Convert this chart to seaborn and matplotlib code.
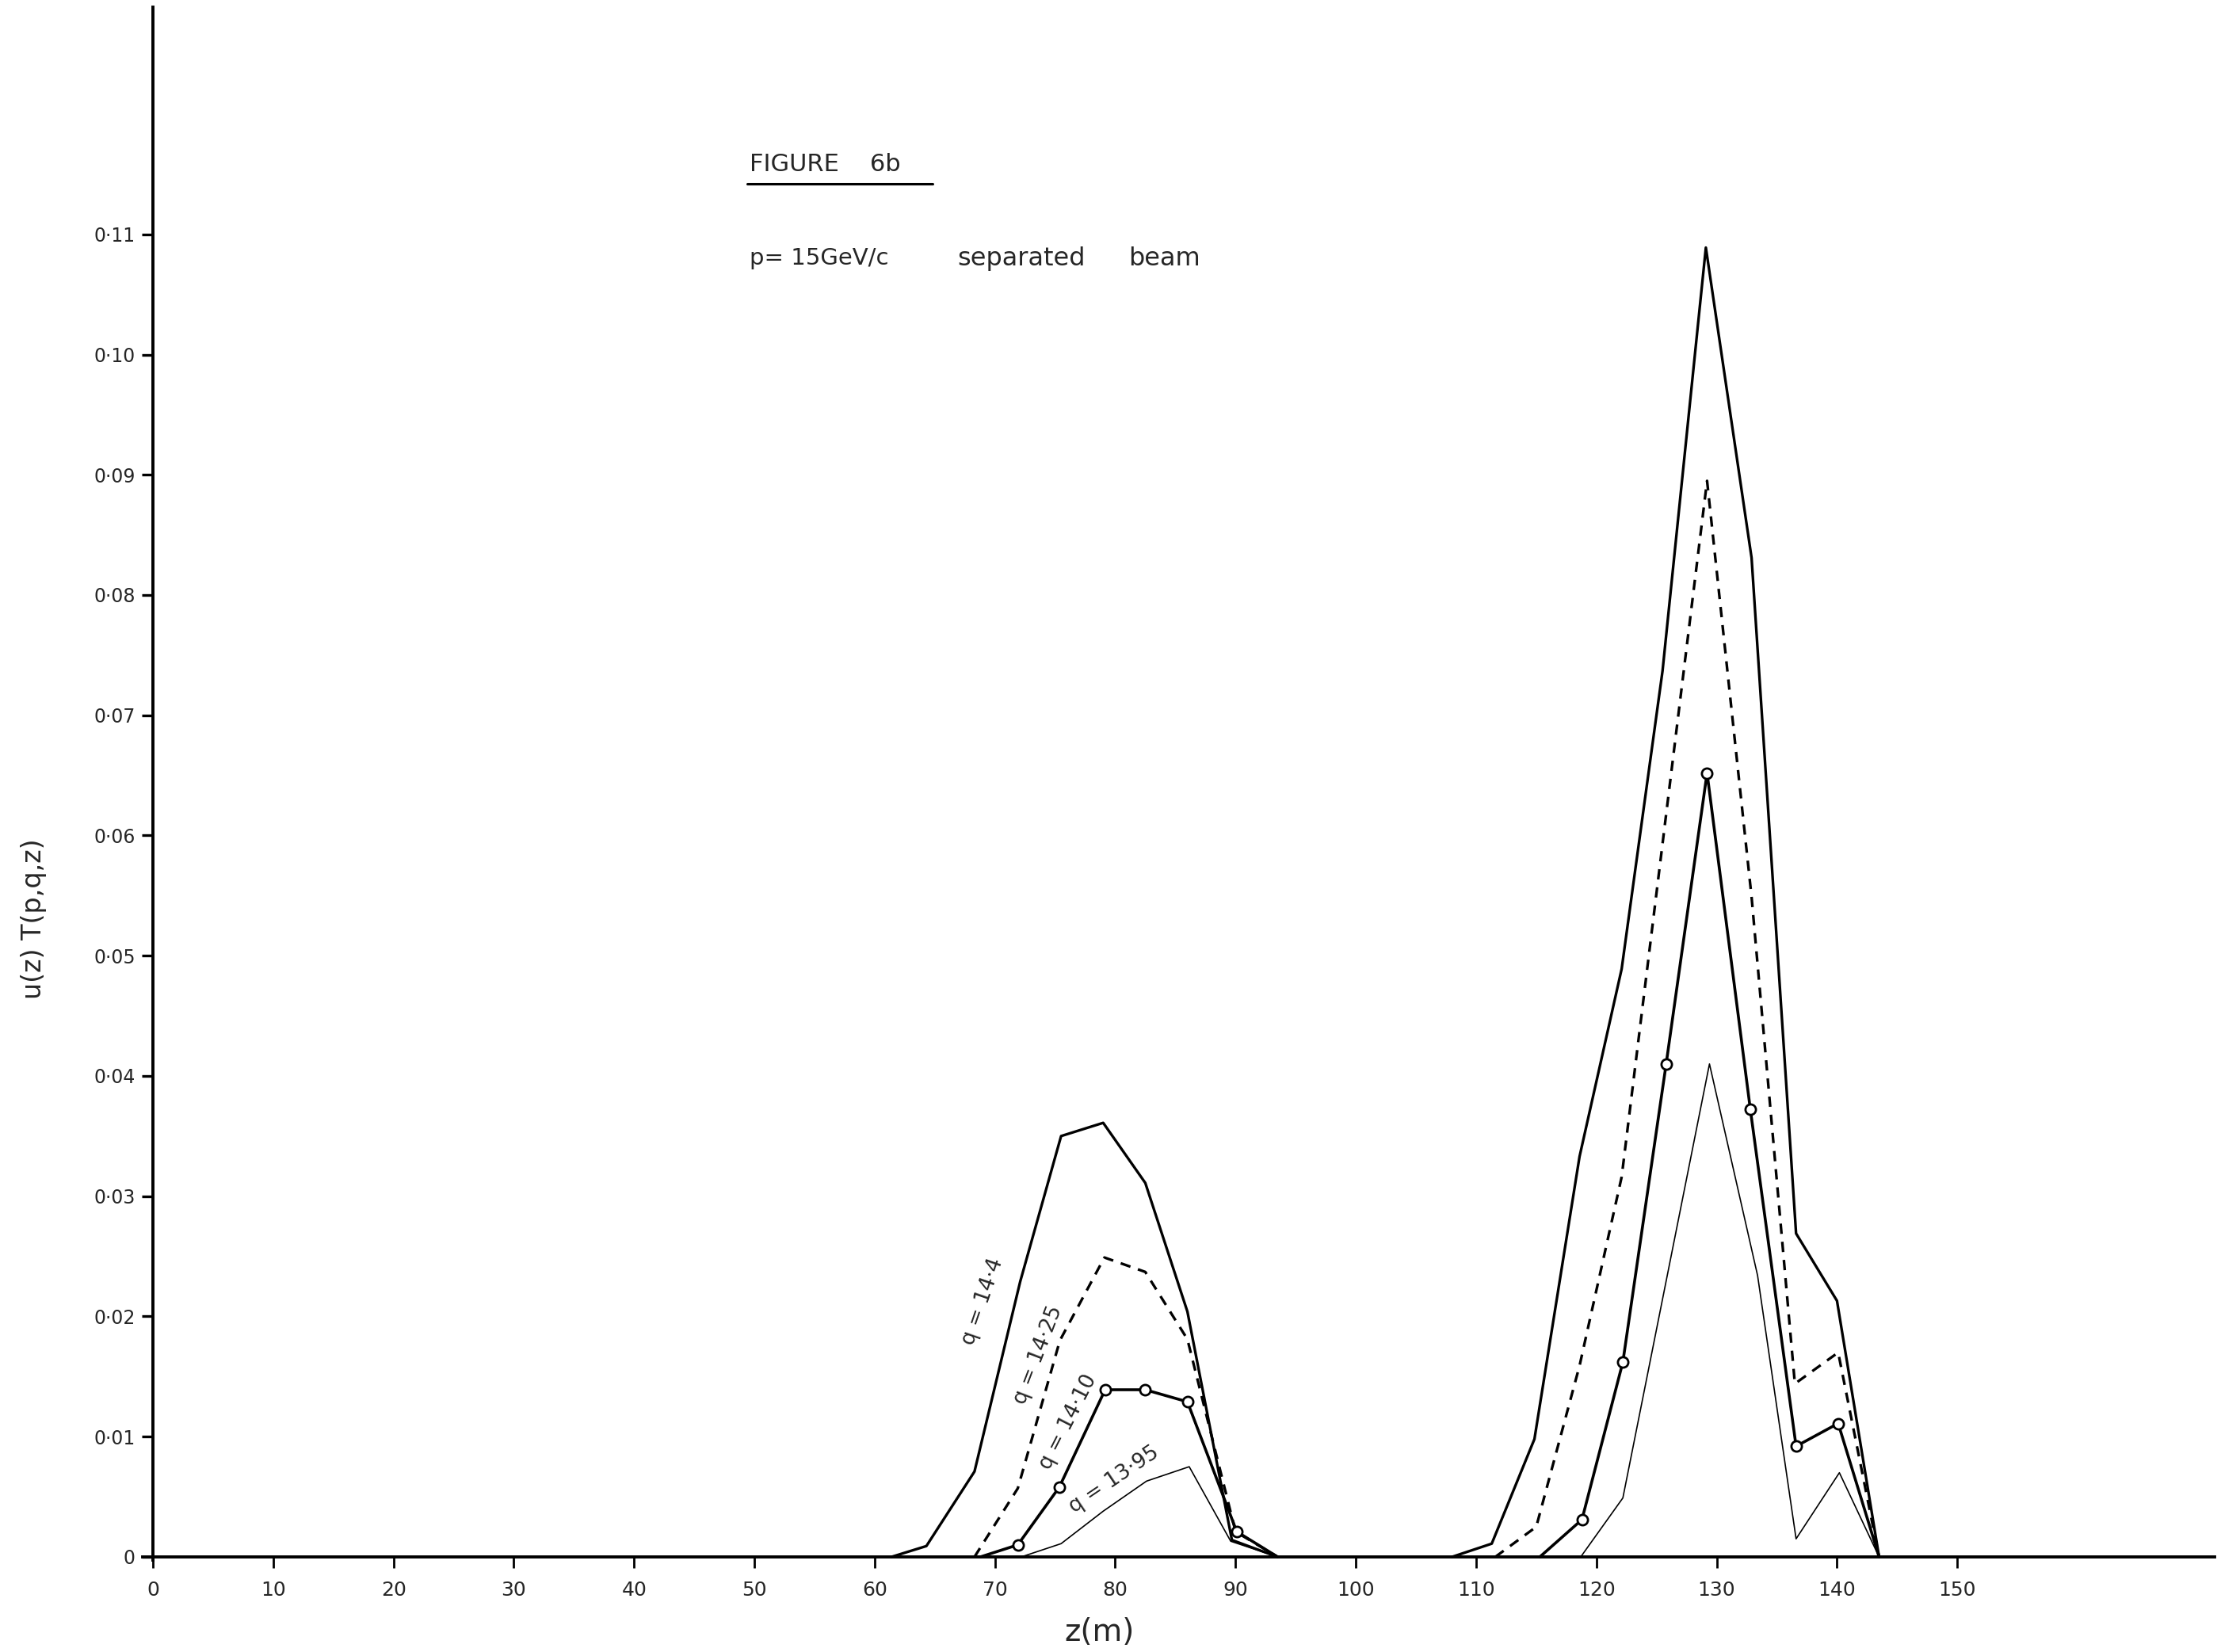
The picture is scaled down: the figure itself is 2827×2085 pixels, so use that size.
import numpy as np
import pandas as pd
import matplotlib
matplotlib.use("Agg")
import matplotlib.pyplot as plt
import seaborn as sns

# ---------------- data ----------------
z_144_left = [61.4, 64.3, 68.3, 72.1, 75.5, 79.0, 82.5, 86.0, 89.7, 93.5]
u_144_left = [0, 0.0009, 0.0071, 0.0229, 0.0350, 0.0361, 0.0311, 0.0204, 0.0014, 0]
z_144_right = [108.0, 111.3, 114.85, 118.6, 122.1, 125.5, 129.1, 132.9, 136.6, 140.0, 143.5]
u_144_right = [0, 0.0011, 0.0098, 0.0333, 0.0489, 0.0737, 0.1089, 0.0831, 0.0269, 0.0213, 0]

z_1425_left = [68.3, 71.9, 75.4, 79.1, 82.5, 86.0, 90.0, 93.5]
u_1425_left = [0, 0.0057, 0.0180, 0.0249, 0.0237, 0.0181, 0.0021, 0]
z_1425_right = [111.6, 115.0, 118.6, 122.1, 129.2, 132.9, 136.5, 140.1, 143.5]
u_1425_right = [0, 0.0025, 0.0159, 0.0316, 0.0895, 0.0549, 0.0144, 0.0170, 0]

z_1410_left = [68.8, 71.9, 75.35, 79.16, 82.5, 86.0, 90.1, 93.5]
u_1410_left = [0, 0.0010, 0.0058, 0.0139, 0.0139, 0.0129, 0.0021, 0]
z_1410_right = [115.3, 118.8, 122.2, 125.8, 129.2, 132.8, 136.6, 140.1, 143.5]
u_1410_right = [0, 0.0031, 0.0162, 0.0410, 0.0652, 0.0372, 0.0092, 0.0111, 0]

z_1395_left = [72.2, 75.5, 79.0, 82.6, 86.15, 89.6, 93.5]
u_1395_left = [0, 0.0011, 0.0038, 0.0063, 0.0075, 0.0013, 0]
z_1395_right = [118.7, 122.2, 129.4, 133.4, 136.6, 140.2, 143.5]
u_1395_right = [0, 0.0049, 0.0410, 0.0234, 0.0015, 0.0070, 0]

x_ticks = list(range(0, 151, 10))
x_tick_labels = [str(v) for v in x_ticks]
y_ticks = [0, 0.01, 0.02, 0.03, 0.04, 0.05, 0.06, 0.07, 0.08, 0.09, 0.10, 0.11]
y_tick_labels = ["0", "0·01", "0·02", "0·03", "0·04", "0·05", "0·06",
                 "0·07", "0·08", "0·09", "0·10", "0·11"]

curve_labels = ["q = 14·4", "q = 14·25", "q = 14·10", "q = 13·95"]

# ---------------- table ----------------
rows = []
def add(q, seg, zs, us):
    for zz, uu in zip(zs, us):
        rows.append(dict(q=q, seg=seg, z=zz, u=uu))

add("14.4", "L", z_144_left, u_144_left)
add("14.4", "R", z_144_right, u_144_right)
add("14.25", "L", z_1425_left, u_1425_left)
add("14.25", "R", z_1425_right, u_1425_right)
add("14.10", "L", z_1410_left, u_1410_left)
add("14.10", "R", z_1410_right, u_1410_right)
add("13.95", "L", z_1395_left, u_1395_left)
add("13.95", "R", z_1395_right, u_1395_right)
df = pd.DataFrame(rows)

# ---------------- style ----------------
sns.set_style("white")
plt.rcParams["font.family"] = ["DejaVu Sans"]

fig = plt.figure(figsize=(28.27, 20.85), dpi=100)
ax = fig.add_axes([0.0637, 0.0554, 0.925, 0.9403])

styles = {
    "14.4": dict(linewidth=2.4, linestyle="-"),
    "14.25": dict(linewidth=2.4, linestyle=(0, (3.9, 3.0))),
    "14.10": dict(linewidth=2.6, linestyle="-"),
    "13.95": dict(linewidth=1.2, linestyle="-"),
}
for q, st in styles.items():
    sub = df[df.q == q]
    sns.lineplot(data=sub, x="z", y="u", units="seg", estimator=None,
                 color="black", ax=ax, legend=False, sort=False, **st)

# circle markers on q = 14.10 (non-zero points)
circ = df[(df.q == "14.10") & (df.u > 0)]
sns.scatterplot(data=circ, x="z", y="u", ax=ax, s=90, marker="o",
                facecolor="white", edgecolor="black", linewidth=2.0,
                legend=False, zorder=5)

# ---------------- axes ----------------
ax.set_xlim(-0.85, 171.4)
ax.set_ylim(-0.0003, 0.1289)
for s in ["top", "right"]:
    ax.spines[s].set_visible(False)
ax.spines["left"].set_position(("data", 0))
ax.spines["bottom"].set_position(("data", 0))
ax.spines["left"].set_linewidth(2.8)
ax.spines["bottom"].set_linewidth(2.8)
ax.spines["left"].set_color("black")
ax.spines["bottom"].set_color("black")

ax.set_xticks(x_ticks)
ax.set_xticklabels(x_tick_labels)
ax.set_yticks(y_ticks)
ax.set_yticklabels(y_tick_labels)
ax.tick_params(axis="x", direction="out", length=10, width=2, labelsize=18,
               pad=12, bottom=True, color="black")
ax.tick_params(axis="y", direction="out", length=10, width=2.4, labelsize=17,
               pad=6, left=True, color="black")
ax.set_xlabel("")
ax.set_ylabel("")

fig.text(43 / 2827, 1 - 1160 / 2085, "u(z) T(p,q,z)", rotation=90,
         fontsize=24, ha="center", va="center")
fig.text(1388 / 2827, 1 - 2060 / 2085, "z(m)", fontsize=28,
         ha="center", va="center")

# ---------------- title block ----------------
ax.text(49.6, 0.1158, "FIGURE    6b", fontsize=22, ha="left", va="center")
ax.plot([49.4, 64.8], [0.1142, 0.1142], color="black", linewidth=2.2)
ax.text(49.6, 0.1080, "p= 15GeV/c", fontsize=21, ha="left", va="center")
ax.text(66.9, 0.1080, "separated", fontsize=23, ha="left", va="center")
ax.text(81.1, 0.1080, "beam", fontsize=23, ha="left", va="center")

# ---------------- curve labels ----------------
label_pos = [(69.0, 0.0212, 71), (73.6, 0.0168, 69), (76.1, 0.0112, 63), (79.9, 0.0064, 34)]
for txt, (xx, yy, rot) in zip(curve_labels, label_pos):
    ax.text(xx, yy, txt, rotation=rot, fontsize=19, ha="center", va="center",
            rotation_mode="anchor")

fig.savefig("out.png", dpi=100, facecolor="white")
